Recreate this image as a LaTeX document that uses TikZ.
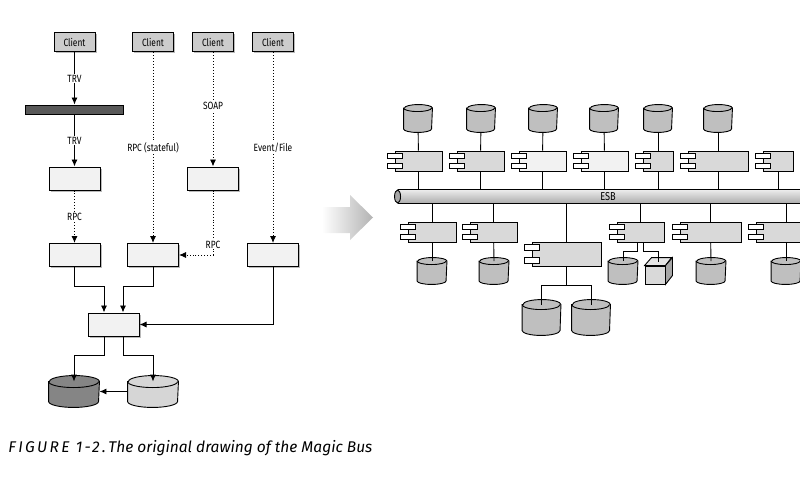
\documentclass[tikz,border=0pt]{standalone}
\usepackage{fontspec}
\setmainfont{Fira Sans}[FakeStretch=0.8]
\newfontfamily\capfont{Fira Sans}[ItalicFont={Fira Sans Italic}]
\usepackage{tikz}
\usetikzlibrary{arrows.meta}
\usetikzlibrary{shadows}
\usetikzlibrary{calc}
\tikzset{>={Latex[length=7pt,width=6pt]}}

\tikzset{
    lbl/.style={fill=white, inner sep=1pt, font=\fontsize{10.5}{12}\selectfont},
    boxshadow/.style={drop shadow={shadow xshift=1.5pt, shadow yshift=-1.5pt, fill=black!45, opacity=0.6}},
    client/.style={draw, line width=1pt, fill=black!20, minimum width=41, minimum height=19, inner sep=0pt, font=\fontsize{10.5}{12}\selectfont, boxshadow},
    svc/.style={draw, line width=1pt, fill=black!5, minimum width=51, minimum height=23, inner sep=0pt, boxshadow},
    comp/.style={draw, fill=black!15, minimum height=20, inner sep=0pt},
    tab/.style={draw, fill=white},
}

% component box with two tabs on the left edge
\newcommand{\comp}[5]{%
    \node[comp, minimum width=#3, minimum height=#4, fill=#5] (#1) at (#2) {};
    \draw[tab] ([shift={(-7.5pt,-3pt)}]#1.north west) rectangle ++(15,{-#4/4});
    \draw[tab] ([shift={(-7.5pt,3pt)}]#1.south west) rectangle ++(15,{#4/4});
}

% database: name, centre, width, height, ellipse radius, fill
\newcommand{\dbase}[6]{%
    \node[minimum width=#3, minimum height=#4, inner sep=0pt] (#1) at (#2) {};
    \draw[fill=#6] ([yshift=-#5pt]#1.north west) -- ([yshift=#5pt]#1.south west)
        arc[start angle=180, end angle=360, x radius=#3/2, y radius=#5]
        -- ([yshift=-#5pt]#1.north east)
        arc[start angle=0, end angle=180, x radius=#3/2, y radius=#5] -- cycle;
    \draw ([yshift=-#5pt]#1.north west) arc[start angle=180, end angle=360, x radius=#3/2, y radius=#5];
}

\begin{document}
\begin{tikzpicture}[x=1pt, y=1pt, line width=0.9pt]
    \useasboundingbox (0,0) rectangle (800,-500);
    \clip (0,0) rectangle (800,-500);

    % Clients
    \node[client] (c1) at (74.5,-42.5) {Client};
    \node[client] (c2) at (153,-42.5) {Client};
    \node[client] (c3) at (213,-42.5) {Client};
    \node[client] (c4) at (273,-42.5) {Client};

    % Bar
    \node[draw, fill=black!65, minimum width=98, minimum height=9, inner sep=0pt] (bar) at (74.5,-109.5) {};

    % Services
    \node[svc] (sA) at (74.5,-178.5) {};
    \node[svc] (sS) at (213,-178.5) {};
    \node[svc] (s1) at (74.5,-255) {};
    \node[svc] (s2) at (153,-255) {};
    \node[svc] (s3) at (273,-255) {};
    \node[svc] (sC) at (113.5,-324.5) {};

    % Databases
    \dbase{db1}{74,-391.5}{50}{31}{6}{black!48}
    \dbase{db2}{153,-391.5}{50}{31}{6}{black!16}

    % Connections
    \draw[->] (c1) -- node[lbl]{TRV} (bar);
    \draw[->] (bar) -- node[lbl]{TRV} (sA);
    \draw[->, dotted] (sA) -- node[lbl]{RPC} (s1);
    \draw[->, dotted] (c2) -- node[lbl]{RPC (stateful)} (s2);
    \draw[->, dotted] (c3) -- node[lbl, pos=0.47]{SOAP} (sS);
    \draw[->, dotted] (sS) |- node[lbl, pos=0.42]{RPC} (s2);
    \draw[->, dotted] (c4) -- node[lbl]{Event/File} (s3);
    \draw[->] (s1.south) -- ++(0,-19) -| ([xshift=-9.5pt]sC.north);
    \draw[->] (s2.south) -- ++(0,-19) -| ([xshift=9.5pt]sC.north);
    \draw[->] (s3) |- (sC);
    \draw[->] ([xshift=-9.5pt]sC.south) -- ++(0,-19) -| ([yshift=-6pt]db1.north);
    \draw[->] ([xshift=9.5pt]sC.south) -- ++(0,-19) -| ([yshift=-6pt]db2.north);
    \draw[->] (db2) -- (db1);

    % Arrow
    \shade[left color=white, right color=black!30] (322,-207) -- (350,-207) -- (350,-195) -- (373,-217.5)
        -- (350,-240) -- (350,-233) -- (322,-233) -- cycle;

    % ESB
    \node[top color=black!8, bottom color=black!32, minimum width=420, minimum height=13, inner sep=0pt,
        font=\fontsize{11.5}{12}\selectfont] (esb) at (608,-196.5) {ESB};
    \draw (esb.north west) -- (esb.north east);
    \draw (esb.south west) -- (esb.south east);
    \draw[fill=black!35] (esb.west) ellipse [x radius=3, y radius=6.5];

    % Top row
    \foreach \n/\x in {1/418,2/481,3/543,4/604,5/658,6/718}{
        \dbase{td\n}{\x,-118.5}{28}{27}{3.5}{black!25}
    }
    \comp{t1}{418.5,-161}{47}{20}{black!15}
    \comp{t2}{480.5,-161}{47}{20}{black!15}
    \comp{t3}{542.5,-161}{47}{20}{black!5}
    \comp{t4}{604.5,-161}{47}{20}{black!5}
    \comp{t5}{658,-161}{30}{20}{black!15}
    \comp{t6}{718,-161}{60}{20}{black!15}
    \comp{t7}{778,-161}{30}{20}{black!15}
    \foreach \n in {1,...,6}
        \draw (td\n) -- (t\n);
    \foreach \n in {1,...,7}
        \draw (t\n) -- (t\n.south |- esb.north);

    % Bottom row
    \comp{u1}{432,-232}{48}{20}{black!15}
    \comp{u2}{493.5,-232}{47}{20}{black!15}
    \comp{u3}{566.5,-254}{69}{24}{black!15}
    \comp{u4}{640.5,-232}{47}{20}{black!15}
    \comp{u5}{710.5,-232}{61}{20}{black!15}
    \comp{u6}{786,-232}{60}{20}{black!15}
    \foreach \n in {1,...,6}
        \draw (esb.south -| u\n.north) -- (u\n);
    \foreach \n/\x in {1/432,2/494,4/623,5/711,6/786}{
        \dbase{bd\n}{\x,-271}{29}{26}{3.5}{black!25}
    }
    \draw (u1) -- ([yshift=-3.5pt]bd1.north);
    \draw (u2) -- ([yshift=-3.5pt]bd2.north);
    \draw (u5) -- ([yshift=-3.5pt]bd5.north);
    \draw (u6) -- ([yshift=-3.5pt]bd6.north);

    % Cube
    \node[draw, fill=black!15, minimum width=20, minimum height=18, inner sep=0pt] (cube) at (655,-275) {};
    \draw[fill=black!10] (cube.north west) -- ++(7,8) -- ++(20,0) -- (cube.north east) -- cycle;
    \draw[fill=black!35] (cube.north east) -- ++(7,8) -- ++(0,-18) -- (cube.south east) -- cycle;
    \draw ([xshift=-3pt]u4.south) -- ++(0,-9) -| ([yshift=-3.5pt]bd4.north);
    \draw ([xshift=3pt]u4.south) -- ++(0,-9) -| ([xshift=3.5pt,yshift=4pt]cube.north);

    % Large databases
    \dbase{ld1}{541.5,-317.5}{38}{35}{5}{black!25}
    \dbase{ld2}{591,-317.5}{38}{35}{5}{black!25}
    \draw (u3.south) -- ++(0,-19) -| ([yshift=-5pt]ld1.north);
    \draw (u3.south) -- ++(0,-19) -| ([yshift=-5pt]ld2.north);

    % Caption
    \node[anchor=base west, inner sep=0pt, font=\capfont\itshape\fontsize{15.5}{18}\selectfont] (cap) at (8,-452)
        {{\addfontfeature{LetterSpace=15}FIGURE 1-2.}\,The original drawing of the Magic Bus};
\end{tikzpicture}
\end{document}
